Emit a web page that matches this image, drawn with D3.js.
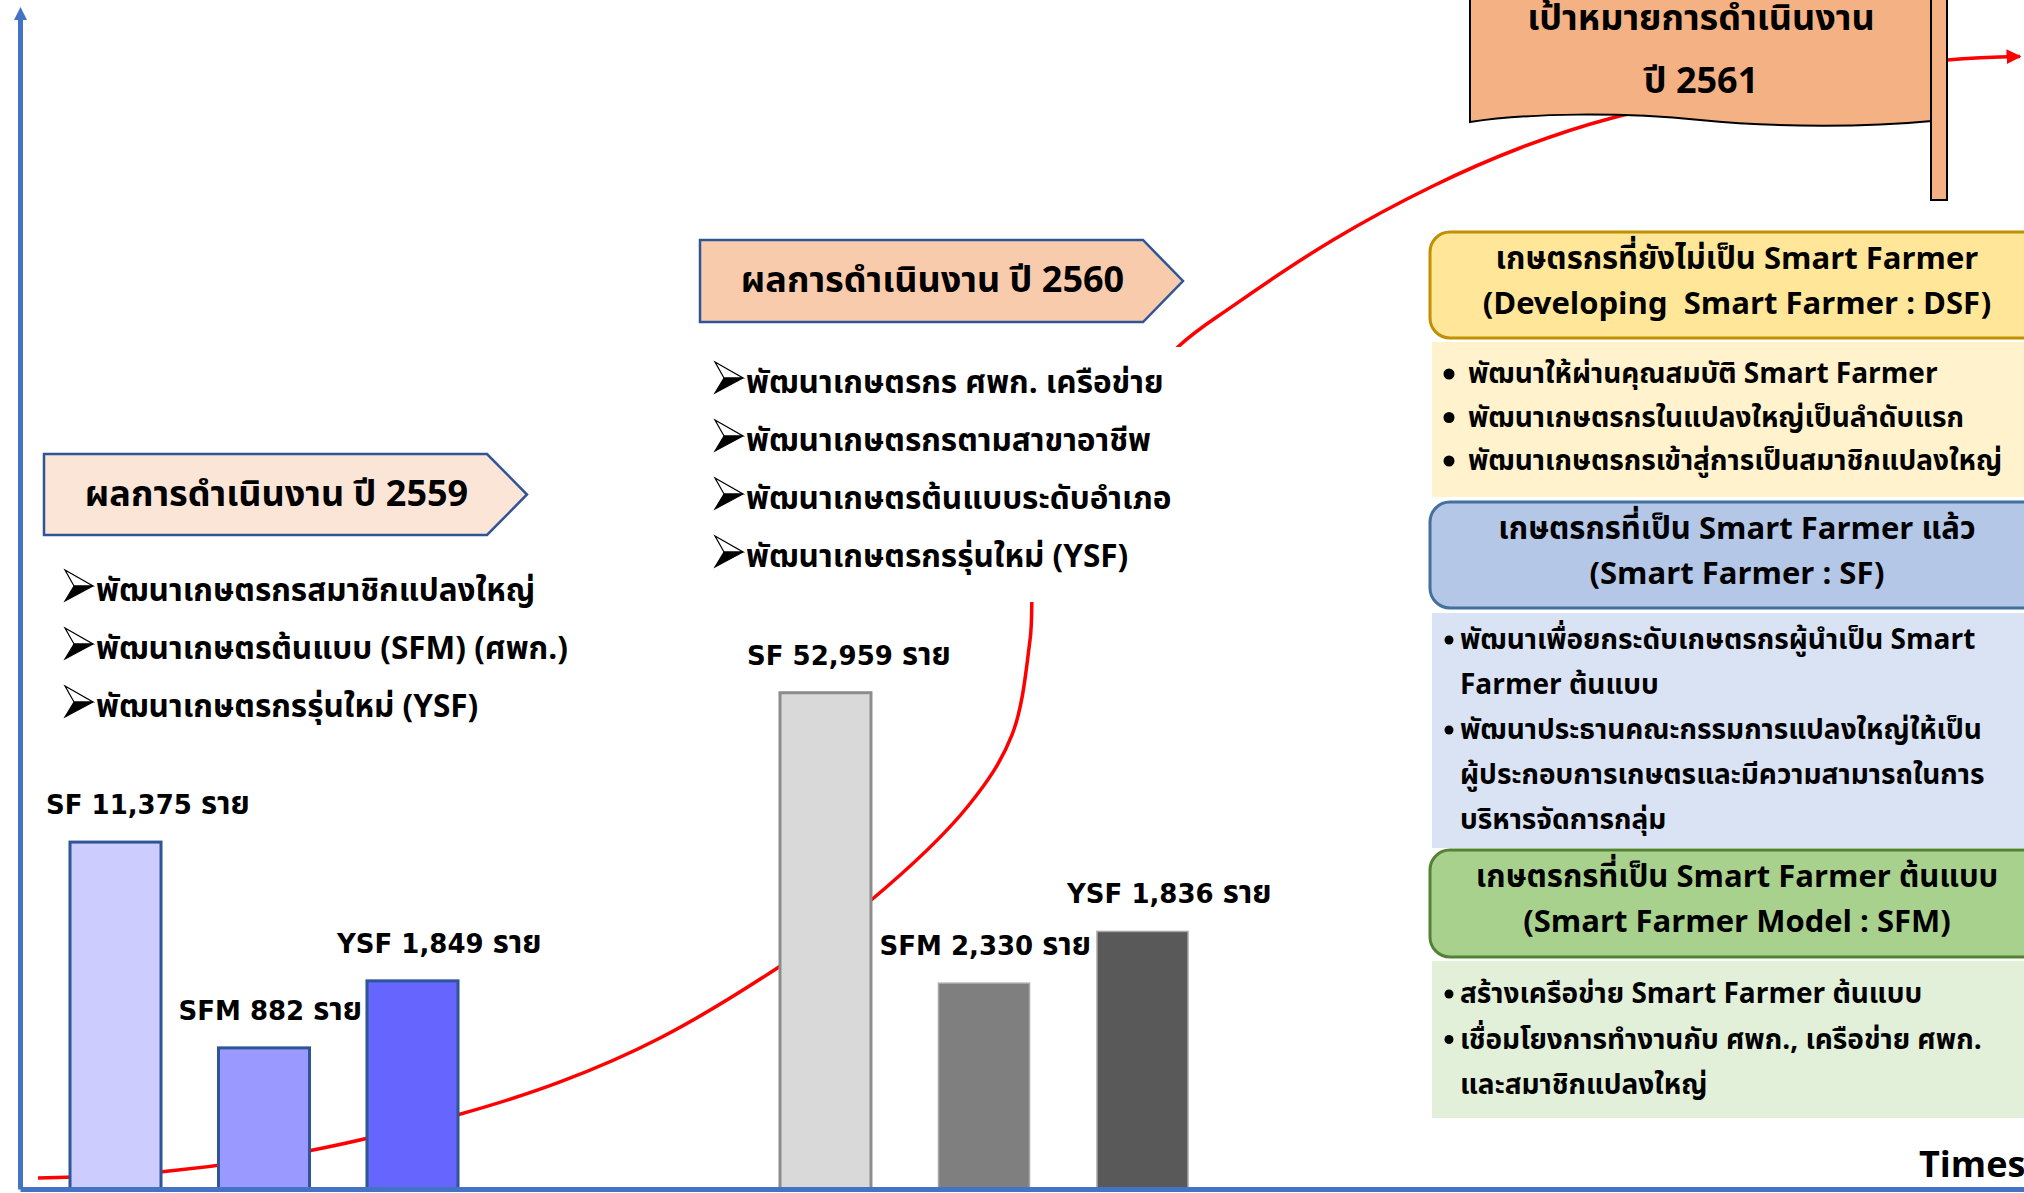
<!DOCTYPE html>
<html>
<head>
<meta charset="utf-8">
<script src="https://cdn.jsdelivr.net/npm/d3@7"></script>
<style>
  body { margin: 0; background: #fff; }
  svg text { font-family: "Noto Sans Thai", "Noto Sans", "DejaVu Sans", sans-serif; fill: #000; white-space: pre; }
  svg tspan.num { font-family: "DejaVu Sans", sans-serif; }
  svg tspan.thai { font-family: "Noto Sans Thai", "Noto Sans", sans-serif; }
</style>
</head>
<body>
<svg id="chart" width="2024" height="1193"></svg>
<script>
// ---- data ----
const categories = ['SF', 'SFM', 'YSF']
const counts2559 = [11375, 882, 1849]
const counts2560 = [52959, 2330, 1836]
// bar heights, in % of the vertical arrow
const level2559 = [29.5, 12.0, 17.7]
const level2560 = [42.2, 17.5, 21.9]

// red growth curve, % of the horizontal / vertical arrows
const trendX = [0.90, 6.99, 14.37, 21.81, 26.95, 31.94, 37.87, 42.42, 47.31, 49.50, 50.40, 50.70, 52.89, 57.78, 60.53, 65.52, 70.51, 74.85, 79.44, 86.33, 96.16, 99.80]
const trendY = [0.94, 1.45, 3.23, 6.29, 9.10, 12.84, 18.88, 24.49, 32.57, 38.61, 46.68, 53.49, 61.99, 71.60, 75.09, 80.70, 85.29, 88.52, 91.07, 93.45, 96.00, 96.30]

const unit = 'ราย'
const title2559 = 'ผลการดำเนินงาน ปี 2559'
const title2560 = 'ผลการดำเนินงาน ปี 2560'
const results2559 = ['พัฒนาเกษตรกรสมาชิกแปลงใหญ่', 'พัฒนาเกษตรต้นแบบ (SFM) (ศพก.)', 'พัฒนาเกษตรกรรุ่นใหม่ (YSF)']
const results2560 = ['พัฒนาเกษตรกร ศพก. เครือข่าย', 'พัฒนาเกษตรกรตามสาขาอาชีพ', 'พัฒนาเกษตรต้นแบบระดับอำเภอ', 'พัฒนาเกษตรกรรุ่นใหม่ (YSF)']
const goalTitle = ['เป้าหมายการดำเนินงาน', 'ปี 2561']

const dsfTitle = ['เกษตรกรที่ยังไม่เป็น Smart Farmer', '(Developing  Smart Farmer : DSF)']
const dsfItems = [['พัฒนาให้ผ่านคุณสมบัติ Smart Farmer'], ['พัฒนาเกษตรกรในแปลงใหญ่เป็นลำดับแรก'], ['พัฒนาเกษตรกรเข้าสู่การเป็นสมาชิกแปลงใหญ่']]
const sfTitle = ['เกษตรกรที่เป็น Smart Farmer แล้ว', '(Smart Farmer : SF)']
const sfItems = [['พัฒนาเพื่อยกระดับเกษตรกรผู้นำเป็น Smart', 'Farmer ต้นแบบ'],
  ['พัฒนาประธานคณะกรรมการแปลงใหญ่ให้เป็น', 'ผู้ประกอบการเกษตรและมีความสามารถในการ', 'บริหารจัดการกลุ่ม']]
const sfmTitle = ['เกษตรกรที่เป็น Smart Farmer ต้นแบบ', '(Smart Farmer Model : SFM)']
const sfmItems = [['สร้างเครือข่าย Smart Farmer ต้นแบบ'], ['เชื่อมโยงการทำงานกับ ศพก., เครือข่าย ศพก.', 'และสมาชิกแปลงใหญ่']]
const axisLabel = 'Times'

// ---- drawing ----
const svg = d3.select('#chart')
const x = d3.scaleLinear().domain([0, 100]).range([20, 2024])
const y = d3.scaleLinear().domain([0, 100]).range([1189, 13])
const fmt = d3.format(',')

const defs = svg.append('defs')
defs.append('marker').attr('id', 'redHead').attr('viewBox', '0 0 10 10')
  .attr('refX', 9).attr('refY', 5).attr('markerWidth', 15).attr('markerHeight', 15)
  .attr('markerUnits', 'userSpaceOnUse').attr('orient', 'auto')
  .append('path').attr('d', 'M0,0L10,5L0,10z').attr('fill', '#ff0000')
defs.append('marker').attr('id', 'blueHead').attr('viewBox', '0 0 10 10')
  .attr('refX', 5).attr('refY', 5).attr('markerWidth', 13).attr('markerHeight', 13)
  .attr('markerUnits', 'userSpaceOnUse').attr('orient', 'auto')
  .append('path').attr('d', 'M0,0L10,5L0,10z').attr('fill', '#4472c4')

// trend curve (drawn first, bars and boxes sit on top of it)
const trend = d3.zip(trendX, trendY)
svg.append('path').datum(trend)
  .attr('d', d3.line().x(d => x(d[0])).y(d => y(d[1])).curve(d3.curveCatmullRom.alpha(0.5)))
  .attr('fill', 'none').attr('stroke', '#ff0000').attr('stroke-width', 3.5)
  .attr('marker-end', 'url(#redHead)')

// bars
function drawBars(counts, levels, band, fills, strokes, widths, labelDx) {
  const rows = categories.map((c, i) => ({cat: c, count: counts[i], level: levels[i], i}))
  const g = svg.append('g')
  g.selectAll('rect').data(rows).join('rect')
    .attr('x', d => band(d.cat)).attr('width', band.bandwidth())
    .attr('y', d => y(d.level)).attr('height', d => y(0) - y(d.level))
    .attr('fill', d => fills[d.i]).attr('stroke', d => strokes[d.i]).attr('stroke-width', d => widths[d.i])
  const lab = g.selectAll('text').data(rows).join('text')
    .attr('x', d => band(d.cat) + labelDx[d.i]).attr('y', d => y(d.level) - 28)
    .attr('font-weight', 'bold')
  lab.append('tspan').attr('class', 'num').attr('font-size', 26).text(d => `${d.cat} ${fmt(d.count)} `)
  lab.append('tspan').attr('class', 'thai').attr('font-size', 31).text(unit)
}
const band2559 = d3.scaleBand().domain(categories).range([70, 458]).paddingInner(0.387)
const band2560 = d3.scaleBand().domain(categories).range([780, 1188]).paddingInner(0.426)
drawBars(counts2559, level2559, band2559, ['#ccccff', '#9999ff', '#6666ff'], ['#2f5597', '#2f5597', '#2f5597'], [3, 3, 3], [-24, -40, -30])
drawBars(counts2560, level2560, band2560, ['#d9d9d9', '#7f7f7f', '#595959'], ['#8c8c8c', '#a6a6a6', '#a6a6a6'], [3, 1.5, 1.5], [-33, -59, -30])

// axes, no ticks
svg.append('g').attr('transform', `translate(0,${y(0)})`)
  .call(d3.axisBottom(x).tickValues([]).tickSizeOuter(0))
  .select('.domain').attr('stroke', '#4472c4').attr('stroke-width', 5)
svg.append('g').attr('transform', `translate(${x(0)},0)`)
  .call(d3.axisLeft(y).tickValues([]).tickSizeOuter(0))
  .select('.domain').attr('stroke', '#4472c4').attr('stroke-width', 5)
  .attr('marker-end', 'url(#blueHead)')
svg.append('text').attr('x', 1919).attr('y', 1177).attr('font-size', 36).attr('font-weight', 'bold').text(axisLabel)

// arrow bullet like the Wingdings "➢"
function arrowBullet(g, x0, yb) {
  g.append('path').attr('d', `M${x0},${yb - 31}L${x0 + 28},${yb - 15}L${x0 + 9},${yb - 15}Z`)
    .attr('fill', '#fff').attr('stroke', '#000').attr('stroke-width', 1.2)
  g.append('path').attr('d', `M${x0 + 9},${yb - 15}L${x0 + 28},${yb - 15}L${x0},${yb}Z`)
    .attr('fill', '#000').attr('stroke', '#000').attr('stroke-width', 1.2)
}

// pentagon year titles + their result lists
function yearBlock(title, items, left, top, right, tip, fill, listX, listY0) {
  const g = svg.append('g')
  const bottom = top + (tip.y - top) * 2
  g.append('path')
    .attr('d', `M${left},${top}L${right},${top}L${tip.x},${tip.y}L${right},${bottom}L${left},${bottom}Z`)
    .attr('fill', fill).attr('stroke', '#2f5597').attr('stroke-width', 2.5)
  g.append('text').attr('x', (left + right) / 2 + 11).attr('y', tip.y + 11)
    .attr('text-anchor', 'middle').attr('font-size', 36).attr('font-weight', 'bold').text(title)
  items.forEach((t, i) => {
    const yb = listY0 + i * 58
    arrowBullet(g, listX, yb)
    g.append('text').attr('x', listX + 31).attr('y', yb).attr('font-size', 31.5).attr('font-weight', 'bold').text(t)
  })
  return g
}
yearBlock(title2559, results2559, 44, 454, 487, {x: 527, y: 494.5}, '#fbe5d6', 65, 601)
// white text panel of 2560 hides part of the curve
svg.append('rect').attr('x', 705).attr('y', 347).attr('width', 485).attr('height', 255).attr('fill', '#fff')
yearBlock(title2560, results2560, 700, 240, 1143, {x: 1183, y: 281}, '#f8cbad', 715, 393)

// right-hand panels
function panel(title, items, top, headH, bodyTop, bodyBot, headFill, headStroke, bodyFill, firstDy, step, bulletX, textX, bulletR) {
  const g = svg.append('g')
  g.append('rect').attr('x', 1432).attr('y', bodyTop).attr('width', 640).attr('height', bodyBot - bodyTop).attr('fill', bodyFill)
  g.append('rect').attr('x', 1430).attr('y', top).attr('width', 660).attr('height', headH)
    .attr('rx', 20).attr('fill', headFill).attr('stroke', headStroke).attr('stroke-width', 3)
  title.forEach((t, i) => g.append('text').attr('x', 1737).attr('y', top + 36.5 + i * 45.5)
    .attr('text-anchor', 'middle').attr('font-size', 31).attr('font-weight', 'bold').text(t))
  let line = 0
  items.forEach(lines => {
    lines.forEach((t, j) => {
      const yb = bodyTop + firstDy + line * step
      if (j === 0) g.append('circle').attr('cx', bulletX).attr('cy', yb - 9).attr('r', bulletR).attr('fill', '#000')
      g.append('text').attr('x', textX).attr('y', yb).attr('font-size', 28).attr('font-weight', 'bold').text(t)
      line++
    })
  })
}
panel(dsfTitle, dsfItems, 232, 106, 342, 497, '#ffe699', '#bf9000', '#fff2cc', 41, 43.5, 1449, 1468, 5.5)
panel(sfTitle, sfItems, 502, 106, 613, 848, '#b4c7e7', '#41719c', '#dae3f3', 36, 45, 1449, 1460, 4.5)
panel(sfmTitle, sfmItems, 850, 107, 961, 1118, '#a9d18e', '#548235', '#e2f0d9', 42, 45.5, 1449, 1460, 4.5)

// goal flag
const flag = svg.append('g')
flag.append('path')
  .attr('d', 'M1470,-5L1470,122C1530,113 1620,112 1700,120C1780,128 1870,127 1932,121L1932,-5Z')
  .attr('fill', '#f4b183').attr('stroke', '#000').attr('stroke-width', 2)
flag.append('rect').attr('x', 1931).attr('y', -5).attr('width', 16).attr('height', 205)
  .attr('fill', '#f4b183').attr('stroke', '#000').attr('stroke-width', 2)
goalTitle.forEach((t, i) => flag.append('text').attr('x', 1701).attr('y', 30 + i * 63)
  .attr('text-anchor', 'middle').attr('font-size', 36).attr('font-weight', 'bold').text(t))
</script>
</body>
</html>
